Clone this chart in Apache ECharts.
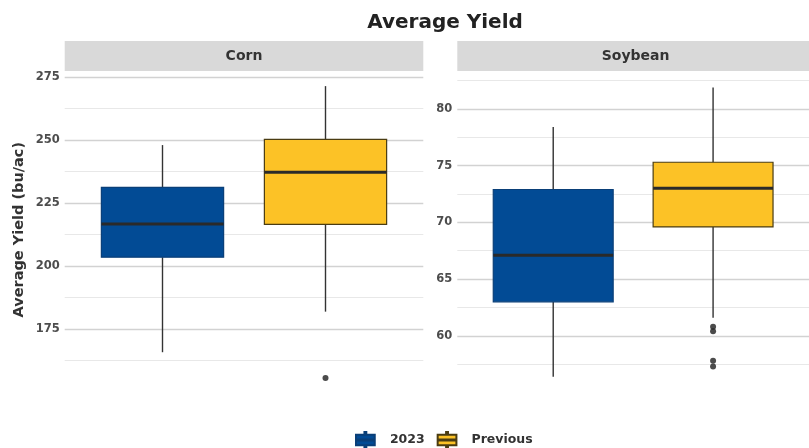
<!DOCTYPE html>
<html>
<head>
<meta charset="utf-8">
<script src="https://cdn.jsdelivr.net/npm/echarts@6/dist/echarts.min.js"></script>
<style>
  html, body { margin: 0; padding: 0; background: #fff; }
  #chart { width: 809px; height: 448px; }
</style>
</head>
<body>
<div id="chart"></div>
<script>
// Yield groups and crops
const groups = ['2023', 'Previous'];
const crops = ['Corn', 'Soybean'];

// Five-number summaries per group: [min, Q1, median, Q3, max]
const cornStats = [
  [165.8, 203.5, 216.7, 231.2, 248.0],
  [181.9, 216.5, 237.2, 250.3, 271.4]
];
const soyStats = [
  [56.4, 63.0, 67.1, 72.9, 78.4],
  [61.6, 69.6, 73.0, 75.3, 81.9]
];

// Outlying observations per group
const cornOutliers = [[], [155.6]];
const soyOutliers = [[], [60.8, 60.4, 57.8, 57.3]];

// Axis ranges and tick steps per crop
const cornRange = [151.6, 277.2];
const soyRange = [55.4, 83.3];
const cornStep = 25;
const soyStep = 5;

const FONT = 'DejaVu Sans';
const fills = ['#024B95', '#FCC226'];
const strokes = ['#0A3F78', '#4A3C12'];
const BOX_UNITS = 0.75;

function boxRender(gi) {
  return function (params, api) {
    const x = api.value(0);
    const lo = api.coord([x, api.value(1)]);
    const q1 = api.coord([x, api.value(2)]);
    const md = api.coord([x, api.value(3)]);
    const q3 = api.coord([x, api.value(4)]);
    const hi = api.coord([x, api.value(5)]);
    const half = api.size([BOX_UNITS, 0])[0] / 2;
    const whisker = { stroke: '#333333', lineWidth: 1.4 };
    return {
      type: 'group',
      children: [
        { type: 'line', shape: { x1: hi[0], y1: hi[1], x2: q3[0], y2: q3[1] }, style: whisker },
        { type: 'line', shape: { x1: q1[0], y1: q1[1], x2: lo[0], y2: lo[1] }, style: whisker },
        { type: 'rect', shape: { x: q3[0] - half, y: q3[1], width: half * 2, height: q1[1] - q3[1] },
          style: { fill: fills[gi], stroke: strokes[gi], lineWidth: 1.2 } },
        { type: 'line', shape: { x1: md[0] - half, y1: md[1], x2: md[0] + half, y2: md[1] },
          style: { stroke: '#2A2A2A', lineWidth: 3 } }
      ]
    };
  };
}

function yAxisFor(gridIndex, range, step, withName) {
  const ax = {
    type: 'value',
    gridIndex: gridIndex,
    min: range[0],
    max: range[1],
    minInterval: step,
    maxInterval: step,
    axisLine: { show: false },
    axisTick: { show: false },
    axisLabel: {
      showMinLabel: false, showMaxLabel: false,
      color: '#4D4D4D', fontFamily: FONT, fontWeight: 'bold', fontSize: 11.5, margin: 5
    },
    splitLine: { show: true, showMinLine: false, showMaxLine: false,
      lineStyle: { color: '#D2D2D2', width: 1.4 } },
    minorTick: { show: false, splitNumber: 2 },
    minorSplitLine: { show: true, lineStyle: { color: '#E8E8E8', width: 1 } }
  };
  if (withName) {
    Object.assign(ax, {
      name: 'Average Yield (bu/ac)',
      nameLocation: 'middle',
      nameRotate: 90,
      nameGap: 38,
      nameTextStyle: { color: '#333333', fontFamily: FONT, fontWeight: 'bold', fontSize: 14.5 }
    });
  }
  return ax;
}

function xAxisFor(gridIndex) {
  return {
    type: 'value', gridIndex: gridIndex, min: 0.4, max: 2.6,
    axisLine: { show: false }, axisTick: { show: false },
    axisLabel: { show: false }, splitLine: { show: false }
  };
}

const panels = [
  { stats: cornStats, outliers: cornOutliers },
  { stats: soyStats, outliers: soyOutliers }
];

const series = [];
panels.forEach(function (p, pi) {
  groups.forEach(function (g, gi) {
    series.push({
      name: g,
      type: 'custom',
      xAxisIndex: pi,
      yAxisIndex: pi,
      renderItem: boxRender(gi),
      itemStyle: { color: fills[gi], borderColor: strokes[gi], borderWidth: 1 },
      encode: { x: 0, y: [1, 2, 3, 4, 5] },
      data: [[gi + 1].concat(p.stats[gi])],
      z: 2
    });
  });
  const pts = [];
  p.outliers.forEach(function (list, gi) {
    list.forEach(function (v) { pts.push([gi + 1, v]); });
  });
  series.push({
    name: 'outliers',
    type: 'scatter',
    xAxisIndex: pi,
    yAxisIndex: pi,
    symbolSize: 6,
    itemStyle: { color: '#1E1E1E' },
    data: pts,
    z: 3
  });
});

// Facet strip headers
const strips = [
  { left: 64.7, width: 358.6 },
  { left: 457.3, width: 356.7 }
];
const graphics = strips.map(function (s, i) {
  return {
    type: 'group',
    left: s.left,
    top: 41,
    children: [
      { type: 'rect', shape: { x: 0, y: 0, width: s.width, height: 30 }, style: { fill: '#D9D9D9' } },
      { type: 'text', x: s.width / 2, y: 15,
        style: { text: crops[i], fill: '#333333', font: 'bold 14px ' + FONT,
          align: 'center', verticalAlign: 'middle' } }
    ]
  };
});

const legendIcon = 'path://M9,0 h2 v3 h-2 z M0,3 h20 v11 h-20 z M0,8 h20 v1 h-20 z M9,14 h2 v2 h-2 z';

const chart = echarts.init(document.getElementById('chart'), null, { renderer: 'canvas' });
chart.setOption({
  backgroundColor: '#ffffff',
  animation: false,
  title: {
    text: 'Average Yield',
    left: 440,
    textAlign: 'center',
    top: 8,
    textStyle: { color: '#222222', fontFamily: FONT, fontWeight: 'bold', fontSize: 20 }
  },
  legend: {
    data: groups,
    bottom: -5,
    left: 350,
    icon: legendIcon,
    itemWidth: 21,
    itemHeight: 15,
    itemGap: 12,
    textStyle: { color: '#333333', fontFamily: FONT, fontWeight: 'bold', fontSize: 12.5, padding: [0, 0, 0, 9] }
  },
  grid: [
    { left: 64.7, width: 358.6, top: 71.5, bottom: 60 },
    { left: 457.3, width: 356.7, top: 71.5, bottom: 60 }
  ],
  xAxis: [xAxisFor(0), xAxisFor(1)],
  yAxis: [
    yAxisFor(0, cornRange, cornStep, true),
    yAxisFor(1, soyRange, soyStep, false)
  ],
  graphic: graphics,
  series: series
});
</script>
</body>
</html>
